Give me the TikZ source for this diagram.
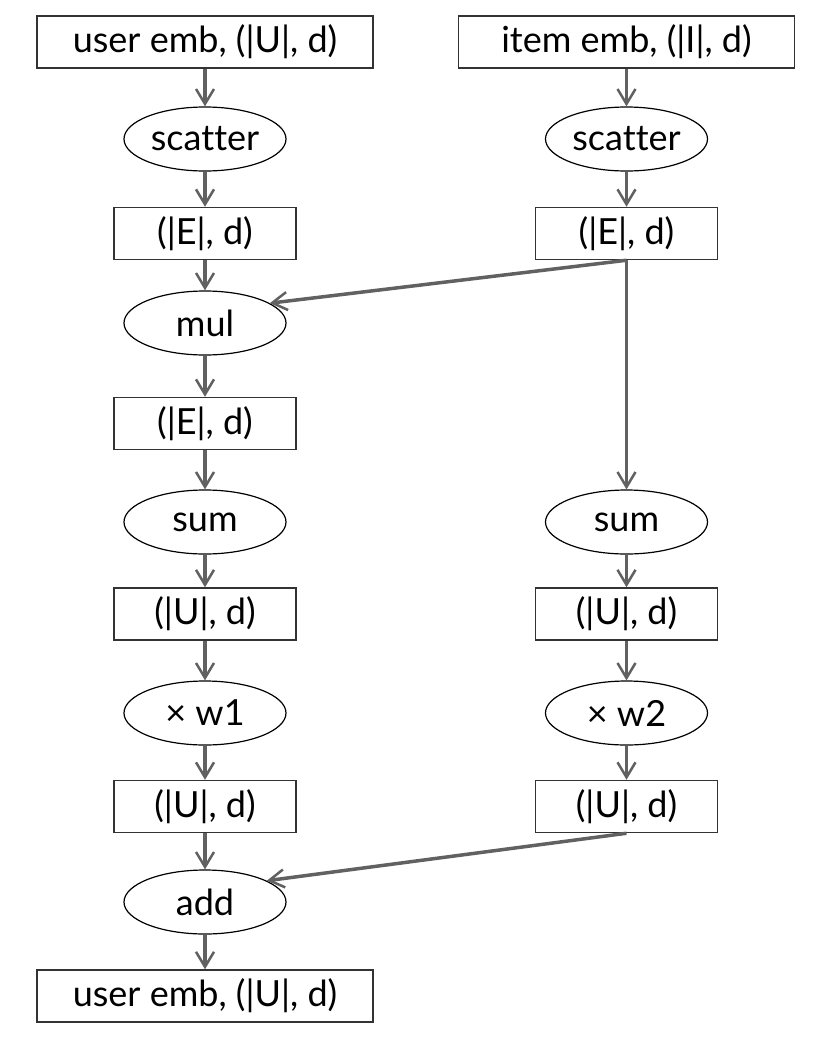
\documentclass[tikz,border=0pt]{standalone}
\usepackage{fontspec}
\setmainfont[Ligatures=NoCommon]{Lato}
\usetikzlibrary{shapes.geometric,arrows.meta}
\begin{document}
\begin{tikzpicture}[x=1pt,y=-1pt,
  box/.style={draw=black!80,line width=1.5pt,minimum height=52pt,inner sep=0pt,font=\fontsize{36}{38}\selectfont},
  op/.style={draw,ellipse,line width=1.2pt,minimum width=162pt,minimum height=64pt,inner sep=0pt,font=\fontsize{36}{38}\selectfont},
  arr/.style={draw=black!62,line width=3.5pt,-{Straight Barb[length=15pt,width=18pt,line width=2.5pt]}}]
\useasboundingbox (0,0) rectangle (830,1039);
% left column
\node[box,minimum width=336pt] (lin) at (205,42) {user emb, (|U|, d)};
\node[op] (lsc) at (205,139) {scatter};
\node[box,minimum width=182pt] (lE1) at (205,233.5) {(|E|, d)};
\node[op] (mul) at (205,323) {mul};
\node[box,minimum width=182pt] (lE2) at (205,423.5) {(|E|, d)};
\node[op] (lsum) at (205,522) {sum};
\node[box,minimum width=182pt] (lU1) at (205,614) {(|U|, d)};
\node[op] (w1) at (205,713) {× w1};
\node[box,minimum width=182pt] (lU2) at (205,806.5) {(|U|, d)};
\node[op] (add) at (205,902) {add};
\node[box,minimum width=336pt] (out) at (205,996) {user emb, (|U|, d)};
% right column
\node[box,minimum width=336pt] (rin) at (626.5,42) {item emb, (|I|, d)};
\node[op] (rsc) at (626.5,139) {scatter};
\node[box,minimum width=182pt] (rE1) at (626.5,233.5) {(|E|, d)};
\node[op] (rsum) at (626.5,522) {sum};
\node[box,minimum width=182pt] (rU1) at (626.5,614) {(|U|, d)};
\node[op] (w2) at (626.5,713) {× w2};
\node[box,minimum width=182pt] (rU2) at (626.5,806.5) {(|U|, d)};
% connectors
\draw[arr] (lin) -- (lsc);
\draw[arr] (lsc) -- (lE1);
\draw[arr] (lE1) -- (mul);
\draw[arr] (mul) -- (lE2);
\draw[arr] (lE2) -- (lsum);
\draw[arr] (lsum) -- (lU1);
\draw[arr] (lU1) -- (w1);
\draw[arr] (w1) -- (lU2);
\draw[arr] (lU2) -- (add);
\draw[arr] (add) -- (out);
\draw[arr] (rin) -- (rsc);
\draw[arr] (rsc) -- (rE1);
\draw[arr] (rE1.south) -- (mul.17);
\draw[arr] (rE1.south) -- (rsum);
\draw[arr] (rsum) -- (rU1);
\draw[arr] (rU1) -- (w2);
\draw[arr] (w2) -- (rU2);
\draw[arr] (rU2.south) -- (add.19);
\end{tikzpicture}
\end{document}
